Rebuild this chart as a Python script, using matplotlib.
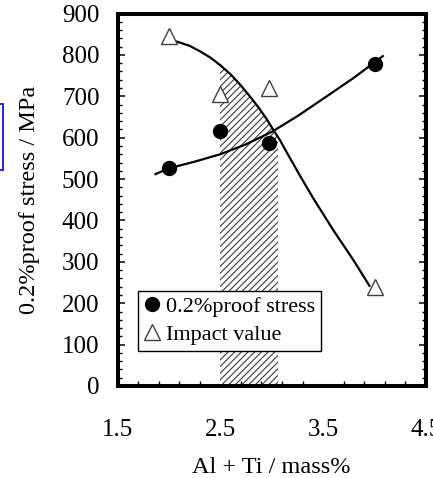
import matplotlib
matplotlib.use("Agg")
import matplotlib.pyplot as plt
from matplotlib.patches import Rectangle, Polygon
from matplotlib.ticker import MultipleLocator, FixedLocator

plt.rcParams['font.family'] = ['Liberation Serif', 'DejaVu Serif']
plt.rcParams['hatch.linewidth'] = 0.8

# data
alti = [2.0, 2.5, 2.97, 4.0]
proof_stress = [527, 615, 586, 777]
impact_value = [845, 705, 719, 240]

proof_curve_x = [1.87, 2.0, 2.25, 2.5, 2.75, 3.0, 3.25, 3.5, 3.8, 4.08]
proof_curve_y = [512, 526, 542, 560, 584, 614, 652, 694, 745, 797]
impact_curve_x = [2.08, 2.2, 2.3, 2.4, 2.5, 2.6, 2.7, 2.8, 2.88, 2.95, 3.01, 3.08, 3.14, 3.2, 3.27, 3.4, 3.6, 3.8, 3.95]
impact_curve_y = [832, 822, 809, 794, 775, 753, 726, 696, 670, 645, 621, 594, 567, 541, 510, 455, 376, 302, 242]

band = [2.5, 3.06]
xticks = [1.5, 2.5, 3.5, 4.5]
xtick_labels = ["1.5", "2.5", "3.5", "4.5"]

fig = plt.figure(figsize=(4.33, 4.78), dpi=100)
ax = fig.add_axes([117.5/433, 1-386/478, (426-117.5)/433, (386-13.5)/478])

# hatched band, clipped under impact curve
span = ax.axvspan(band[0], band[1], ymin=0, ymax=1, facecolor='white',
                  edgecolor='#3a3a3a', hatch='/////', linewidth=0, zorder=1)
poly = Polygon(list(zip(impact_curve_x, impact_curve_y)) +
               [(impact_curve_x[-1], 0), (impact_curve_x[0], 0)],
               closed=True, transform=ax.transData)
span.set_clip_path(poly)

ax.plot(proof_curve_x, proof_curve_y, color='black', lw=1.6, zorder=2)
ax.plot(impact_curve_x, impact_curve_y, color='black', lw=1.6, zorder=2)

ax.plot(alti, proof_stress, 'o', ms=10, color='black', ls='none', zorder=3,
        label='0.2%proof stress')
ax.plot(alti, impact_value, '^', ms=11, mfc='white', mec='#404040', mew=1.0,
        ls='none', zorder=3, label='Impact value')

ax.set_xlim(1.5, 4.5)
ax.set_ylim(0, 900)
ax.set_xticks(xticks)
ax.set_xticklabels(xtick_labels)
ax.xaxis.set_minor_locator(FixedLocator([1.5 + 0.2*i for i in range(16)]))
ax.yaxis.set_major_locator(MultipleLocator(100))
ax.yaxis.set_minor_locator(MultipleLocator(20))

ax.tick_params(axis='y', which='major', direction='in', length=5, width=1.1,
               left=True, right=True, labelsize=18, pad=13)
ax.tick_params(axis='y', which='minor', direction='in', length=3.2, width=1.0,
               left=True, right=True)
ax.tick_params(axis='x', which='major', direction='in', length=0, width=1.0,
               top=False, bottom=True, labelsize=18, pad=24)
ax.tick_params(axis='x', which='minor', direction='in', length=3.5, width=1.0,
               top=False, bottom=True)

for s in ax.spines.values():
    s.set_linewidth(2.9)

ax.set_ylabel('0.2%proof stress / MPa', fontsize=17.5, labelpad=16)
ax.set_xlabel('Al + Ti / mass%', fontsize=17.5, labelpad=11)

leg = ax.legend(loc='lower left', bbox_to_anchor=(0.065, 0.095), fontsize=16,
                frameon=True, fancybox=False, edgecolor='black', framealpha=1,
                handlelength=0.8, handletextpad=0.25, borderaxespad=0,
                borderpad=0.25, labelspacing=0.35)
leg.get_frame().set_linewidth(1.0)

# partial blue box at left edge
fig.patches.append(Rectangle((-10/433, 1-170/478), 12.5/433, 66/478,
                             transform=fig.transFigure, fill=False,
                             edgecolor='#1010ff', lw=1.3, clip_on=False))

fig.savefig('out.png', dpi=100)
